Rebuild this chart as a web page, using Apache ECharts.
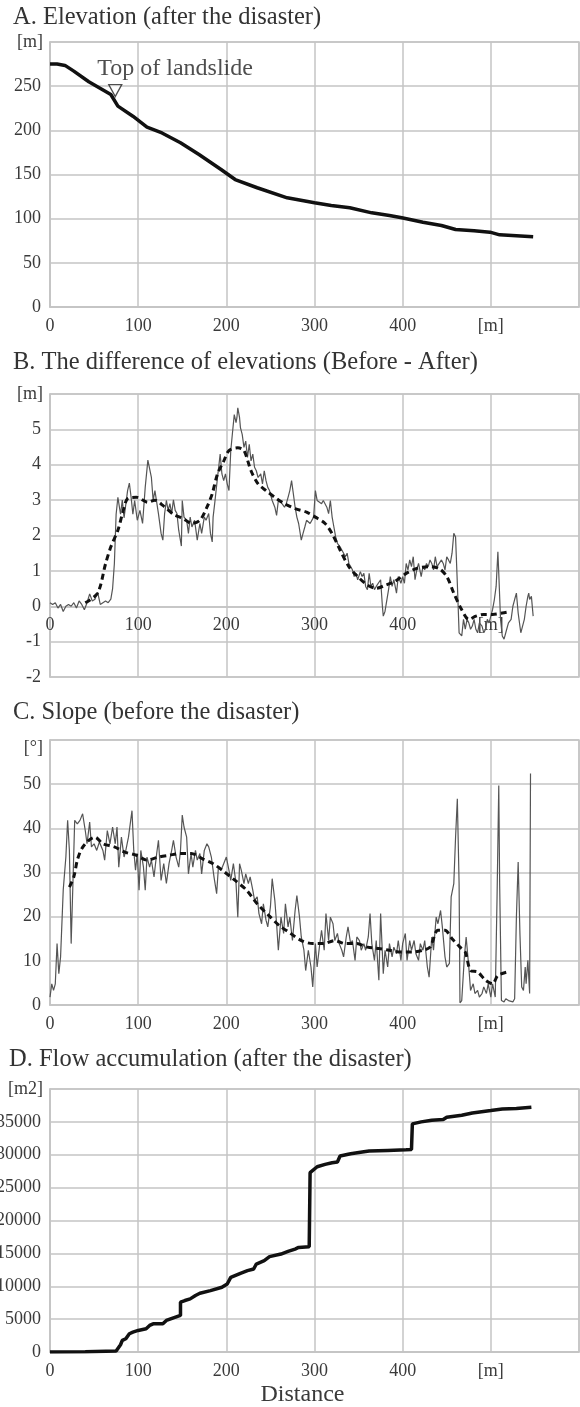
<!DOCTYPE html>
<html>
<head>
<meta charset="utf-8">
<script src="https://cdn.jsdelivr.net/npm/echarts@6/dist/echarts.min.js"></script>
<style>
html,body{margin:0;padding:0;background:#fff;}
#chart{width:580px;height:1407px;}
</style>
</head>
<body>
<div id="chart"></div>
<script>
// ---------- DATA ----------
const xTicks = [0, 100, 200, 300, 400, 500, 600];
const titles = [
  'A. Elevation (after the disaster)',
  'B. The difference of elevations (Before - After)',
  'C. Slope (before the disaster)',
  'D. Flow accumulation (after the disaster)'
];
const yUnits = ['[m]', '[m]', '[°]', '[m2]'];
const xUnit = '[m]';
const xName = 'Distance';

// A. Elevation
const elevDist = [0, 8, 17, 27, 44, 69, 77, 94, 110, 127, 148, 169, 194, 210, 235, 269, 300, 319, 340, 365, 385, 399, 423, 444, 460, 481, 499, 510, 548];
const elevVal  = [275, 275, 273.5, 267, 255, 240.6, 227.4, 216, 203.6, 197, 186, 172.6, 155.7, 144.3, 135, 123.6, 118, 115, 112.3, 106.6, 103.6, 101, 96, 92.3, 87.7, 86.2, 84.7, 81.7, 79.4];
const landslideTop = [74, 245];
const landslideLabel = 'Top of landslide';

// B. Difference of elevations (solid = raw, dashed = smoothed)
const diffDist = [0,3,6,9,12,15,18,21,24,27,30,33,36,39,42,45,48,51,54,57,60,63,66,69,71,
  73,75,77,80,82,84,88,90,92,94,96,99,102,105,108,111,113,115,117,119,123,126,128,130,132,134,136,138,140,142,144,146,149,150,152,155,157,159,161,164,167,170,172,175,177,180,182,184,185,187,190,193,195,197,199,201,203,205,207,209,211,212,213,215,216,218,220,222,224,226,228,230,232,234,236,239,241,243,245,247,249,252,255,257,259,262,264,266,268,270,272,274,276,278,280,282,285,287,289,291,295,299,301,303,305,308,310,312,314,316,318,320,322,324,326,329,333,335,337,339,341,343,345,347,349,352,354,356,358,360,362,364,366,368,370,372,375,377,378,380,382,384,386,388,390,393,395,398,400,402,404,406,408,410,412,414,416,418,421,423,425,427,429,431,433,435,437,439,444,446,448,450,452,454,456,458,460,462,464,467,469,471,473,475,477,479,481,483,485,487,490,492,494,496,498,500,502,504,506,508,509,511,513,515,518,520,523,525,527,529,531,534,536,538,540,542,543,544,546,548];
const diffVal  = [0.1,0.05,0.1,-0.05,0.05,-0.15,0,0.05,0,0.1,-0.05,0.15,0.05,-0.1,0.1,0.35,0.15,0.2,0.4,0.05,0.1,0.15,0.1,0.2,0.5,
  1.2,2.6,3.08,2.6,3.0,2.5,3.27,3.48,3.08,2.6,2.99,2.43,2.71,2.34,3.36,4.13,4.11,3.64,2.99,3.27,2.62,2.06,1.87,2.62,2.99,2.71,2.9,2.62,3.01,2.71,2.62,2.15,1.7,2.99,2.52,2.43,2.06,2.52,2.24,2.43,1.87,2.34,2.06,2.52,2.43,2.62,2.06,1.82,2.52,2.95,3.64,4.3,3.74,3.55,3.74,3.46,3.27,4.39,4.91,5.42,5.19,5.33,5.61,5.33,5.05,4.86,4.49,4.67,4.21,4.58,4.11,4.3,3.93,3.83,3.64,3.74,3.46,3.83,3.55,3.36,3.27,2.99,2.8,2.57,2.99,2.94,2.9,2.8,2.9,3.08,3.27,3.55,3.18,2.8,2.52,2.34,1.87,2.06,2.24,2.43,2.34,2.52,3.27,2.99,3.04,2.9,2.99,2.94,2.8,2.62,2.99,2.52,2.24,1.96,1.78,1.68,1.5,1.4,1.5,1.21,1.12,1.03,0.84,0.93,0.75,0.98,0.84,0.93,0.56,0.47,0.93,0.56,0.65,0.47,0.56,0.56,0.75,0,-0.28,-0.14,-0.09,0.47,0.84,0.56,0.75,0.37,0.84,0.65,0.84,0.65,1.21,1.03,1.31,1.12,1.4,0.75,1.03,1.21,0.84,1.12,1.03,1.21,1.12,1.31,1.21,1.03,1.4,1.12,1.31,1.21,1.03,1.4,1.31,1.21,1.5,2.06,1.96,0.65,-0.75,-0.84,-0.37,-0.65,-0.37,-0.47,-0.65,-0.56,-0.37,-0.65,-0.75,-0.47,-0.56,-0.75,-0.65,-0.37,-0.47,-0.28,-0.09,0.19,0.56,1.54,0.93,-0.37,-0.84,-0.93,-0.65,-0.47,-0.37,0,0.19,0.37,-0.19,-0.75,-0.73,-0.37,0,0.28,0.37,0.19,0.28,-0.28,-0.32];
const diffSmoothDist = [40,54,63,69,77,82,88,98,111,119,128,140,151,161,170,178,184,190,197,203,213,220,228,236,245,255,266,278,291,301,312,320,329,339,349,360,370,381,391,404,416,429,441,450,458,467,475,483,492,502,513,522];
const diffSmoothVal  = [0.1,0.37,1.2,1.68,2.15,2.6,3.04,3.08,2.94,3.0,2.85,2.6,2.48,2.34,2.43,2.8,3.18,3.74,4.1,4.4,4.48,4.4,3.83,3.46,3.27,3.08,2.9,2.76,2.66,2.52,2.34,2.05,1.59,1.12,0.84,0.6,0.51,0.6,0.7,0.93,1.07,1.12,1.07,0.84,0.37,-0.1,-0.37,-0.28,-0.23,-0.23,-0.19,-0.15];

// C. Slope (solid = raw, dashed = smoothed)
const slopeDist = [0,2,4,6,8,10,12,15,18,20,22,24,26,28,31,34,37,40,42,45,47,50,53,56,60,62,65,68,71,74,76,78,81,84,86,89,91,93,95,97,99,101,103,106,108,110,113,115,118,121,123,126,129,132,135,138,140,143,146,148,150,152,155,157,160,162,165,167,170,172,175,178,180,183,186,189,191,194,197,200,203,205,208,211,213,215,217,220,222,225,227,230,232,235,237,240,242,245,247,250,252,255,257,259,262,265,267,270,272,275,278,280,283,285,288,290,293,296,298,301,303,306,308,311,313,316,318,321,323,326,328,331,333,336,338,341,343,346,348,351,353,356,358,361,363,365,368,370,373,375,378,380,383,385,388,390,393,395,398,400,403,405,408,410,413,415,418,420,423,425,428,430,433,435,438,440,443,445,448,450,453,455,458,460,462,464,465,467,470,472,475,477,480,482,485,487,490,492,495,497,500,502,505,507,509,510,512,515,517,520,522,525,527,529,531,533,535,537,539,540,542,544,545];
const slopeVal  = [1.8,4.8,3.3,4.8,13.9,7.1,10.9,26,33.5,41.8,35,13.9,27.5,41.8,41,41.8,43.3,39.5,36.5,41.4,35.8,36.5,35,36.9,35,32.8,39.5,36.5,40.3,36.5,40.3,31.2,38,33.5,35,38,41,44,35,30.5,34.3,26,35,31.2,26,33.5,31.2,32.8,29,34.3,37.3,28.2,32,27.5,32,35,37.3,33.5,31.2,35,43,40.3,38,29.7,34.3,31.2,35,32.8,34.3,29.7,35,36.5,35.8,33.5,29,25.2,31.2,30.5,32,33.5,30.5,28.2,32,27.5,19.9,32,30.5,27.5,29.7,27.5,29,26,23.7,24.5,20.7,18.4,22.9,19.2,17.7,22.2,28.6,23.7,18.4,12.4,19.9,16.2,22.9,17.7,19.9,14.6,21.4,24.8,19.9,15.4,12.4,7.8,12.4,8.6,4.1,13.9,8.6,13.9,16.9,12.4,20.7,14.6,19.9,18.4,14.6,16.2,13.9,12.4,10.9,15.4,17.7,13.9,14.6,10.1,15.4,14.6,12.4,13.9,12.4,15.4,20.7,13.9,10.1,14.6,5.6,20.7,7.1,12.4,8.6,13.9,10.9,13.1,11.6,14.6,10.1,13.9,16.2,10.1,14.6,12.4,14.6,11.6,10.1,13.9,12.4,14.6,8.6,6.3,15.4,12.4,19.9,18.4,21.4,17.7,10.9,8.6,9.4,24.5,27.5,38,46.7,27.5,0.5,1,10.9,15.4,8.6,3.3,4.8,2.6,3.3,1.8,2.6,4.1,2.6,4.8,1.8,4.8,1.8,23.7,49.7,27.5,1,0.7,1.4,1,0.7,0.7,1.4,19.9,32.4,16.2,4.1,3.3,8.6,4.8,10.1,2.6,52.4];
const slopeSmoothDist = [22,27,31,36,44,51,60,73,85,98,110,123,135,148,160,173,185,198,210,223,235,248,260,273,285,298,310,323,335,348,360,373,385,398,410,423,431,440,448,456,465,471,477,485,494,502,508,519];
const slopeSmoothVal  = [26.7,29,32.8,35.4,37.3,38,36.5,35.8,34.6,33.9,32.8,33.5,33.9,34.3,34.3,33.1,32,30.1,28.2,26,22.9,20.3,18,16.2,14.6,13.9,13.9,14.6,13.9,13.9,13.1,12.8,12.4,12,12,12.4,13.1,16.9,16.9,15,13.1,12,7.8,7.5,5.6,4.8,6.7,7.5];

// D. Flow accumulation
const flowDist = [0,40,75,77,80,82,86,90,94,100,109,113,117,128,132,140,148,148,153,159,165,170,182,195,201,205,216,224,231,234,243,249,262,270,278,282,294,295,303,312,320,326,329,341,356,362,383,404,410,411,421,433,446,450,467,479,500,513,529,546];
const flowVal  = [0,50,150,150,1100,1770,2020,2780,3030,3280,3540,4040,4290,4290,4800,5200,5560,7580,7830,8080,8590,8940,9340,9850,10350,11360,11970,12370,12630,13380,13890,14500,14900,15300,15660,15900,16000,27270,28180,28540,28790,28890,29800,30150,30450,30560,30660,30760,30810,34700,35000,35250,35350,35700,36010,36360,36720,36970,37020,37220];

// ---------- HELPERS ----------
const zip = (xs, ys) => xs.map((x, i) => [x, ys[i]]);
const FONT = 'Liberation Serif';
const TXT = '#3a3a3a';
const GRIDC = '#c4c4c4';

const grids = [
  {left: 50, right: 1, top: 42, height: 265},
  {left: 50, right: 1, top: 394, height: 283},
  {left: 50, right: 1, top: 740, height: 265},
  {left: 50, right: 1, top: 1089, height: 263}
].map(g => Object.assign(g, {show: true, borderColor: GRIDC, borderWidth: 1.5, containLabel: false, outerBoundsMode: 'none'}));

const yRanges = [
  {min: 0, max: 300, interval: 50},
  {min: -2, max: 6, interval: 1},
  {min: 0, max: 60, interval: 10},
  {min: 0, max: 40000, interval: 5000}
];
const yNameGaps = [0, 0, -8, 0];
// B's distance labels sit on its zero line: shift = 2 units of 283/8 px
const xOffsets = [0, -70.75, 0, 0];

const xAxes = grids.map((g, i) => ({
  type: 'value', gridIndex: i, min: xTicks[0], max: xTicks[xTicks.length - 1], interval: 100,
  position: 'bottom', offset: xOffsets[i],
  axisLine: {show: true, onZero: false, lineStyle: {color: GRIDC, width: 1.5}},
  axisTick: {show: false},
  splitLine: {show: true, lineStyle: {color: GRIDC, width: 1.5}},
  axisLabel: {
    show: true, margin: 10, fontFamily: FONT, fontSize: 18, color: TXT,
    formatter: v => v === 500 ? xUnit : (v === 600 ? '' : String(v))
  },
  name: i === 3 ? xName : '',
  nameLocation: 'middle', nameGap: 31,
  nameTextStyle: {fontFamily: FONT, fontSize: 24, color: TXT, padding: [0, 24, 0, 0]}
}));

const yAxes = grids.map((g, i) => Object.assign({
  type: 'value', gridIndex: i,
  axisLine: {show: true, onZero: false, lineStyle: {color: GRIDC, width: 1.5}},
  axisTick: {show: false},
  splitLine: {show: true, lineStyle: {color: GRIDC, width: 1.5}},
  axisLabel: {margin: 9, fontFamily: FONT, fontSize: 18, color: TXT, showMaxLabel: false,
    formatter: v => String(v)},
  name: yUnits[i], nameLocation: 'end', nameGap: yNameGaps[i],
  nameTextStyle: {fontFamily: FONT, fontSize: 18, color: TXT, align: 'right', verticalAlign: 'middle', padding: [0, 7, 0, 0]}
}, yRanges[i]));

const lineBase = {type: 'line', showSymbol: false, symbol: 'none', animation: false, silent: true};

const option = {
  animation: false,
  backgroundColor: '#ffffff',
  title: titles.map((t, i) => ({
    text: t, left: [13, 13, 13, 9][i], top: [5, 350, 700, 1047][i], padding: 0,
    textStyle: {fontFamily: FONT, fontSize: 24.5, fontWeight: 'normal', color: '#333'}
  })),
  grid: grids,
  xAxis: xAxes,
  yAxis: yAxes,
  series: [
    Object.assign({}, lineBase, {xAxisIndex: 0, yAxisIndex: 0, data: zip(elevDist, elevVal),
      lineStyle: {color: '#111', width: 3.5}}),
    {type: 'scatter', xAxisIndex: 0, yAxisIndex: 0, data: [landslideTop], symbol: 'triangle',
      symbolRotate: 180, symbolSize: [13, 12], animation: false, silent: true,
      itemStyle: {color: '#fff', borderColor: '#222', borderWidth: 1.3},
      label: {show: true, formatter: landslideLabel, position: 'inside', align: 'left', verticalAlign: 'middle',
        offset: [-18, -22], fontFamily: FONT, fontSize: 24, color: '#222'}},
    Object.assign({}, lineBase, {xAxisIndex: 1, yAxisIndex: 1, data: zip(diffDist, diffVal),
      lineStyle: {color: '#555', width: 1.2}}),
    Object.assign({}, lineBase, {xAxisIndex: 1, yAxisIndex: 1, data: zip(diffSmoothDist, diffSmoothVal), smooth: 0.3,
      lineStyle: {color: '#111', width: 3, type: [6, 4]}}),
    Object.assign({}, lineBase, {xAxisIndex: 2, yAxisIndex: 2, data: zip(slopeDist, slopeVal),
      lineStyle: {color: '#555', width: 1.2}}),
    Object.assign({}, lineBase, {xAxisIndex: 2, yAxisIndex: 2, data: zip(slopeSmoothDist, slopeSmoothVal), smooth: 0.3,
      lineStyle: {color: '#111', width: 3, type: [6, 4]}}),
    Object.assign({}, lineBase, {xAxisIndex: 3, yAxisIndex: 3, data: zip(flowDist, flowVal),
      lineStyle: {color: '#111', width: 3.5}})
  ]
};

const chart = echarts.init(document.getElementById('chart'), null, {renderer: 'canvas', width: 580, height: 1407});
chart.setOption(option);
</script>
</body>
</html>
